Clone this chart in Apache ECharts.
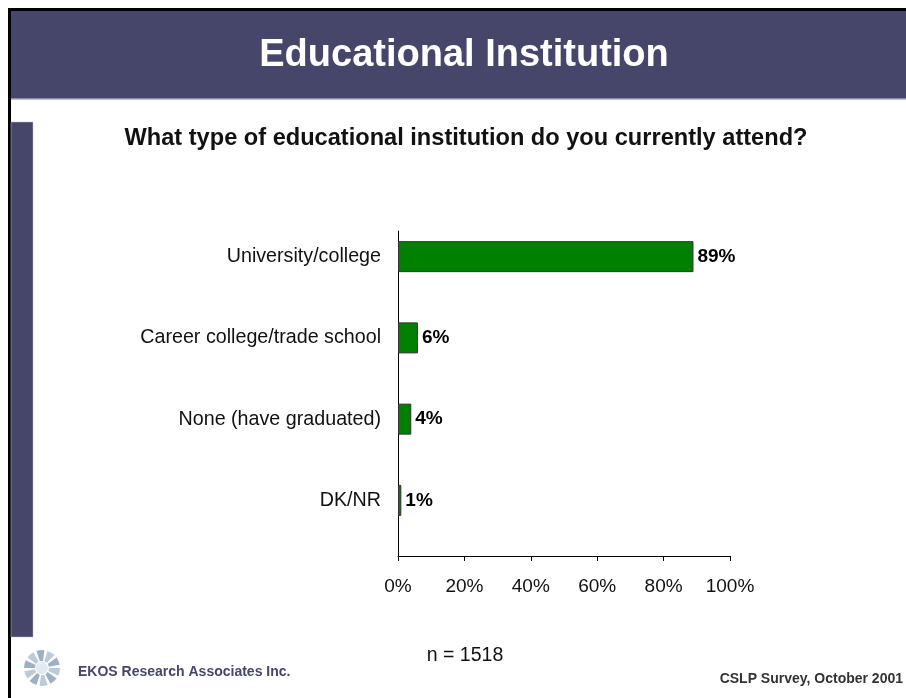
<!DOCTYPE html>
<html>
<head>
<meta charset="utf-8">
<script src="https://cdn.jsdelivr.net/npm/echarts@6/dist/echarts.min.js"></script>
<style>
  html, body { margin: 0; padding: 0; background: #ffffff; }
  #chart { width: 906px; height: 698px; }
</style>
</head>
<body>
<div id="chart"></div>
<script>
// Survey responses: type of educational institution currently attended
const categories = ['University/college', 'Career college/trade school', 'None (have graduated)', 'DK/NR'];
const shares = [89, 6, 4, 1];
const tickValues = [0, 20, 40, 60, 80, 100];

const FONT = '"Liberation Sans", Arial, sans-serif';
const NAVY = '#46466a';

const chart = echarts.init(document.getElementById('chart'), null, { renderer: 'canvas' });

// Small swirl logo made of curved petals around a centre
const logoPetals = [];
for (let i = 0; i < 10; i++) {
  const a0 = (i / 10) * Math.PI * 2;
  logoPetals.push({
    type: 'sector',
    shape: { cx: 42, cy: 668, r0: 7, r: 18, startAngle: a0, endAngle: a0 + 0.45 },
    style: { fill: i % 2 ? '#9db1c6' : '#bccbdb' },
    silent: true
  });
}

chart.setOption({
  animation: false,
  backgroundColor: '#ffffff',
  title: [
    {
      text: 'Educational Institution',
      left: 459, top: 32, textAlign: 'center',
      textStyle: { color: '#ffffff', fontFamily: FONT, fontWeight: 'bold', fontSize: 38 }
    },
    {
      text: 'What type of educational institution do you currently attend?',
      left: 461, top: 121, textAlign: 'center',
      textStyle: { color: '#111111', fontFamily: FONT, fontWeight: 'bold', fontSize: 23.6 }
    },
    {
      text: 'n = 1518',
      left: 460, top: 641, textAlign: 'center',
      textStyle: { color: '#111111', fontFamily: FONT, fontWeight: 'normal', fontSize: 19.5 }
    }
  ],
  graphic: [
    // page frame and header band
    { type: 'rect', shape: { x: 8, y: 8, width: 898, height: 3 }, style: { fill: '#000000' }, silent: true, z: 0 },
    { type: 'rect', shape: { x: 8, y: 8, width: 3, height: 690 }, style: { fill: '#000000' }, silent: true, z: 0 },
    { type: 'rect', shape: { x: 11, y: 11, width: 895, height: 87 }, style: { fill: NAVY }, silent: true, z: 0 },
    { type: 'rect', shape: { x: 11, y: 98, width: 895, height: 1.5 }, style: { fill: '#8a8aa6' }, silent: true, z: 0 },
    // left accent bar
    { type: 'rect', shape: { x: 11, y: 122, width: 22, height: 515 }, style: { fill: NAVY, stroke: '#b8b8d0', lineWidth: 0.5 }, silent: true, z: 0 },
    // footer
    {
      type: 'group', children: logoPetals.concat([
        { type: 'circle', shape: { cx: 42, cy: 668, r: 6 }, style: { fill: '#e3e9f0' }, silent: true }
      ])
    },
    {
      type: 'text', left: 78, top: 665,
      style: { text: 'EKOS Research Associates Inc.', fill: NAVY, font: 'bold 14px ' + FONT }
    },
    {
      type: 'text', right: 3, top: 672,
      style: { text: 'CSLP Survey, October 2001', fill: '#333333', font: 'bold 14px ' + FONT }
    }
  ],
  grid: [
    // grid holding the bars and category labels
    { left: 398, right: 176, top: 216, bottom: 157, containLabel: false },
    // grid carrying the visible axis frame and percentage ticks
    { left: 398, right: 176, top: 231, bottom: 142, containLabel: false }
  ],
  xAxis: [
    {
      gridIndex: 0, type: 'value', min: 0, max: 100, interval: 20,
      axisLine: { show: false }, axisTick: { show: false }, axisLabel: { show: false }, splitLine: { show: false }
    },
    {
      gridIndex: 1, type: 'value', min: 0, max: 100, interval: 20,
      axisLine: { show: true, lineStyle: { color: '#000000', width: 1 } },
      axisTick: { show: true, length: 5, lineStyle: { color: '#000000' } },
      axisLabel: {
        show: true, margin: 21, color: '#111111', fontFamily: FONT, fontSize: 19,
        customValues: tickValues, formatter: v => v + '%'
      },
      splitLine: { show: false }
    }
  ],
  yAxis: [
    {
      gridIndex: 0, type: 'category', data: categories, inverse: true,
      axisLine: { show: false }, axisTick: { show: false }, splitLine: { show: false },
      axisLabel: { margin: 17, color: '#111111', fontFamily: FONT, fontSize: 19.7 }
    },
    {
      gridIndex: 1, type: 'category', data: categories, inverse: true,
      axisLine: { show: true, lineStyle: { color: '#000000', width: 1 } },
      axisTick: { show: false }, axisLabel: { show: false }, splitLine: { show: false }
    }
  ],
  series: [
    {
      type: 'bar', xAxisIndex: 0, yAxisIndex: 0,
      data: shares, barWidth: 31,
      itemStyle: { color: '#008000', borderColor: '#333333', borderWidth: 1 },
      label: {
        show: true, position: 'right', distance: 4, formatter: '{c}%',
        color: '#000000', fontFamily: FONT, fontWeight: 'bold', fontSize: 19
      }
    }
  ]
});
</script>
</body>
</html>
